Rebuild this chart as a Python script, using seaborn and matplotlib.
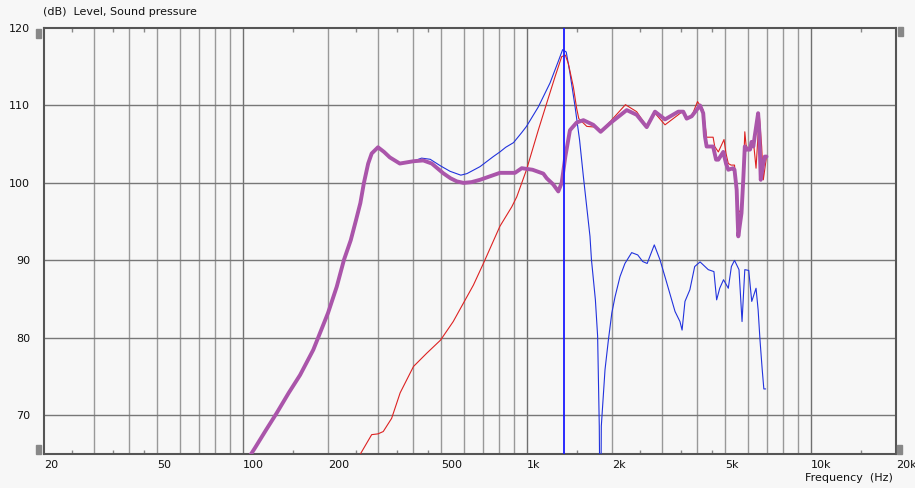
import matplotlib
matplotlib.use("Agg")
import matplotlib.pyplot as plt
from matplotlib.patches import Rectangle
import pandas as pd
import seaborn as sb

# shared low end (both curves identical below ~400 Hz)
low_freq = [103, 110.7, 121, 132, 145.5, 159.5, 177.5, 200, 214.7, 227.6, 240.5, 251, 260,
            267.6, 277, 285, 300, 315, 330, 358, 400]
low_db = [64.0, 65.8, 68.1, 70.3, 72.9, 75.2, 78.45, 83.2, 86.6, 90.06, 92.6, 95.2, 97.4,
          100.0, 102.5, 103.8, 104.6, 104.0, 103.3, 102.5, 102.8]

# thick purple curve above 400 Hz
sum_freq = [433, 464, 509, 540, 568, 600, 640, 686, 806, 911, 962, 1050, 1146, 1178, 1242,
            1294, 1330, 1370, 1422, 1502, 1586, 1718, 1824, 1969, 2253, 2442, 2650, 2834,
            3074, 3424, 3564, 3664, 3815, 4084, 4190, 4250, 4308, 4540, 4650, 4736, 4930,
            5040, 5135, 5340, 5400, 5496, 5540, 5568, 5715, 5797, 5870, 5990, 6124, 6200,
            6290, 6360, 6540, 6600, 6680, 6820, 6900, 7000]
sum_db = [102.9, 102.5, 101.25, 100.6, 100.2, 100.0, 100.1, 100.4, 101.3, 101.3, 101.9, 101.7,
          101.2, 100.6, 99.8, 98.9, 100.0, 103.4, 106.8, 107.8, 108.1, 107.5, 106.6, 107.7,
          109.4, 108.8, 107.2, 109.2, 108.2, 109.2, 109.2, 108.3, 108.6, 110.0, 109.0, 106.0,
          104.7, 104.7, 103.0, 103.0, 104.0, 102.5, 101.7, 101.9, 101.7, 99.1, 95.2, 93.1,
          96.1, 100.4, 104.7, 104.3, 104.3, 105.3, 104.7, 106.0, 109.0, 106.8, 100.4, 102.5,
          103.4, 103.4]

# thin red curve
red_freq = [250, 261, 285, 300, 313, 335, 359, 400, 445, 498, 552, 600, 650, 705, 806, 887,
            924, 1000, 1100, 1178, 1260, 1330, 1370, 1404, 1462, 1502, 1528, 1630, 1750,
            1824, 1969, 2230, 2442, 2650, 2834, 3074, 3424, 3564, 3664, 3815, 4000, 4190,
            4308, 4540, 4600, 4736, 4960, 5040, 5135, 5250, 5400, 5568, 5715, 5797, 5870,
            5930, 6027, 6290, 6430, 6600, 6730, 6820, 7000]
red_db = [64.0, 65.1, 67.5, 67.6, 67.9, 69.6, 72.9, 76.3, 78.0, 79.7, 82.1, 84.5, 86.8, 89.6,
          94.4, 96.9, 98.2, 101.7, 106.8, 110.3, 113.7, 116.3, 116.5, 115.4, 112.4, 109.6,
          108.3, 107.3, 107.2, 106.6, 107.9, 110.1, 109.2, 107.3, 109.0, 107.5, 108.8, 109.3,
          108.2, 108.6, 110.5, 109.4, 105.9, 105.9, 104.7, 104.0, 105.6, 103.8, 102.5, 102.3,
          102.3, 96.5, 96.0, 100.8, 106.6, 104.9, 104.3, 105.5, 101.9, 108.8, 104.7, 100.4,
          103.4]

# thin blue curve above 400 Hz
blue_freq = [427, 458, 498, 538, 587, 617, 686, 764, 806, 845, 900, 962, 1000, 1100, 1210,
             1294, 1340, 1380, 1422, 1483, 1538, 1586, 1673, 1693, 1748, 1780, 1804, 1812,
             1828, 1834, 1890, 1942, 1997, 2050, 2134, 2221, 2346, 2464, 2565, 2660, 2818,
             2952, 3095, 3334, 3470, 3530, 3614, 3760, 3910, 4084, 4366, 4570, 4672, 4790,
             4940, 5135, 5265, 5400, 5600, 5740, 5870, 6060, 6210, 6430, 6540, 6640, 6760,
             6850, 6950]
blue_db = [103.2, 103.05, 102.2, 101.5, 101.0, 101.2, 102.1, 103.4, 104.0, 104.6, 105.2,
           106.5, 107.3, 109.8, 112.9, 115.7, 117.2, 116.9, 114.2, 109.8, 105.5, 100.8, 93.1,
           90.1, 84.9, 80.2, 68.6, 60.0, 60.0, 68.6, 75.9, 79.7, 83.2, 85.3, 87.9, 89.6, 91.0,
           90.7, 89.85, 89.6, 92.0, 90.06, 87.5, 83.4, 82.1, 81.0, 84.7, 86.2, 89.2, 89.8,
           88.8, 88.55, 84.9, 86.4, 87.5, 86.4, 89.2, 90.0, 88.8, 82.1, 88.8, 88.7, 84.7,
           86.4, 83.6, 79.7, 75.9, 73.4, 73.4]

cursor_freq = 1354

x_ticks = [20, 50, 100, 200, 500, 1000, 2000, 5000, 10000, 20000]
x_labels = ['20', '50', '100', '200', '500', '1k', '2k', '5k', '10k', '20k']
y_ticks = [70, 80, 90, 100, 110, 120]
half_ticks = [25, 35, 45, 150, 250, 350, 450, 1500, 2500, 3500, 4500, 15000]

blue = pd.DataFrame({'freq': low_freq + blue_freq, 'db': low_db + blue_db})
purple = pd.DataFrame({'freq': low_freq + sum_freq, 'db': low_db + sum_db})
red = pd.DataFrame({'freq': red_freq, 'db': red_db})

sb.set_theme(style="white")
plt.rcParams['font.family'] = ['DejaVu Sans']
bg = '#f7f7f7'

fig = plt.figure(figsize=(9.15, 4.88), dpi=100, facecolor=bg)
ax = fig.add_axes([44 / 915, 1 - 454 / 488, 852 / 915, 426 / 488])
ax.set_facecolor(bg)
ax.set_xscale('log')

#grid
for dec in [10, 100, 1000, 10000]:
    for m in range(1, 10):
        f = dec * m
        if 20 < f < 20000:
            dark = m == 1
            ax.axvline(f, color='#707070' if dark else '#999999', lw=1.0, zorder=1)
for v in [70, 80, 90, 100, 110]:
    ax.axhline(v, color='#777777', lw=1.0, zorder=1)

sb.lineplot(data=blue, x='freq', y='db', ax=ax, color='#2233dd', lw=0.8,
            sort=False, estimator=None, zorder=3)
sb.lineplot(data=red, x='freq', y='db', ax=ax, color='#dd2222', lw=0.8,
            sort=False, estimator=None, zorder=3)
sb.lineplot(data=purple, x='freq', y='db', ax=ax, color='#aa55aa', lw=2.8,
            sort=False, estimator=None, zorder=4)
ax.axvline(cursor_freq, color='#1a1aff', lw=1.3, zorder=5)

ax.set_xlim(20, 20000)
ax.set_ylim(65, 120)
ax.set_xticks(x_ticks)
ax.set_xticklabels(x_labels, ha='left')
ax.set_xticks(half_ticks, minor=True)
ax.set_xticklabels([], minor=True)
ax.set_yticks(y_ticks)
ax.set_yticklabels([str(v) for v in y_ticks])
ax.tick_params(axis='x', which='major', length=0, pad=4, labelsize=8, colors='#111111')
ax.tick_params(axis='x', which='minor', length=3, width=1, direction='in',
               top=True, bottom=True, color='#888888')
ax.tick_params(axis='y', which='major', length=0, pad=10, labelsize=8, colors='#111111')
ax.set_xlabel('')
ax.set_ylabel('')

for s in ax.spines.values():
    s.set_color('#555555')
    s.set_linewidth(1.5)
    s.set_visible(True)

# gray slider markers at the corners
for (x0, y0) in [(-8, 416), (-8, 0), (2, 418), (1, 0)]:
    ax.add_patch(Rectangle((x0 / 852 if x0 < 0 else 1 + x0 / 852, y0 / 426),
                           5 / 852, 9 / 426, transform=ax.transAxes,
                           color='#888888', clip_on=False, zorder=6))

fig.text(43 / 915, 1 - 12 / 488, '(dB)  Level, Sound pressure', ha='left', va='center',
         fontsize=8, color='#111111')
fig.text(893 / 915, 1 - 478 / 488, 'Frequency  (Hz)', ha='right', va='center',
         fontsize=8, color='#111111')

plt.savefig('out.png', dpi=100, facecolor=bg)
